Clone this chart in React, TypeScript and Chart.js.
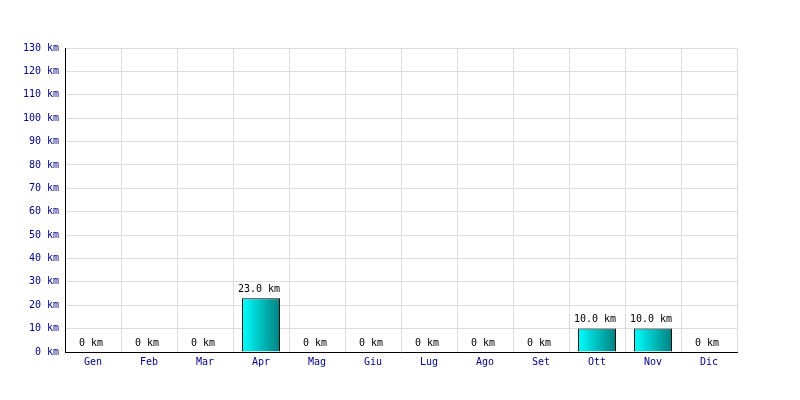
import React, { useEffect, useRef } from "react";
import { Chart, registerables } from "chart.js";

Chart.register(...registerables);

const months = ["Gen", "Feb", "Mar", "Apr", "Mag", "Giu", "Lug", "Ago", "Set", "Ott", "Nov", "Dic"];
const distances = [0, 0, 0, 23, 0, 0, 0, 0, 0, 10, 10, 0];
const yTicks = [0, 10, 20, 30, 40, 50, 60, 70, 80, 90, 100, 110, 120, 130];

const FONT = "'DejaVu Sans Mono', monospace";

const fmtLabel = (v: number) => (v === 0 ? "0 km" : `${v.toFixed(1)} km`);

// Writes each month's distance just above its bar
const valueLabels = {
  id: "valueLabels",
  afterDatasetsDraw(chart: any) {
    const ctx = chart.ctx;
    const meta = chart.getDatasetMeta(0);
    ctx.save();
    ctx.font = `10px ${FONT}`;
    ctx.fillStyle = "#000000";
    ctx.textAlign = "center";
    ctx.textBaseline = "bottom";
    meta.data.forEach((bar: any, i: number) => {
      ctx.fillText(fmtLabel(distances[i]), bar.x - 2, bar.y - 4);
    });
    ctx.restore();
  },
};

export default function App() {
  const ref = useRef<HTMLCanvasElement | null>(null);

  useEffect(() => {
    document.body.style.margin = "0";
    const canvas = ref.current!;
    const chart = new Chart(canvas, {
      type: "bar",
      data: {
        labels: months,
        datasets: [
          {
            data: distances,
            borderColor: "#000000",
            borderWidth: 1,
            barPercentage: 0.68,
            categoryPercentage: 1,
            backgroundColor: (c: any) => {
              const ch = c.chart;
              const xs = ch.scales?.x;
              if (!ch.chartArea || !xs || c.dataIndex === undefined) return "#00c0c0";
              const cx = xs.getPixelForValue(c.dataIndex);
              const w = ((ch.chartArea.right - ch.chartArea.left) / months.length) * 0.68;
              const g = ch.ctx.createLinearGradient(cx - w / 2, 0, cx + w / 2, 0);
              g.addColorStop(0, "#00ffff");
              g.addColorStop(1, "#008080");
              return g;
            },
          },
        ],
      },
      options: {
        animation: false,
        responsive: false,
        maintainAspectRatio: false,
        layout: { padding: { left: 0, right: 63, top: 48, bottom: 0 } },
        plugins: { legend: { display: false }, tooltip: { enabled: false } },
        scales: {
          x: {
            grid: { color: "#dcdcdc", drawTicks: false, offset: true },
            border: { color: "#000000", width: 1 },
            ticks: { color: "#000080", font: { family: FONT, size: 10 }, padding: 4 },
            afterFit: (s: any) => {
              s.height = 48;
            },
          },
          y: {
            min: 0,
            max: 130,
            afterBuildTicks: (s: any) => {
              s.ticks = yTicks.map((v) => ({ value: v }));
            },
            grid: { color: "#dcdcdc", drawTicks: false },
            border: { color: "#000000", width: 1 },
            ticks: {
              color: "#000080",
              font: { family: FONT, size: 10 },
              padding: 6,
              callback: (v: any) => `${v} km`,
            },
            afterFit: (s: any) => {
              s.width = 65;
            },
          },
        },
      },
      plugins: [valueLabels],
    });
    return () => chart.destroy();
  }, []);

  return (
    <div style={{ width: 800, height: 400, background: "#ffffff" }}>
      <canvas ref={ref} width={800} height={400} />
    </div>
  );
}
